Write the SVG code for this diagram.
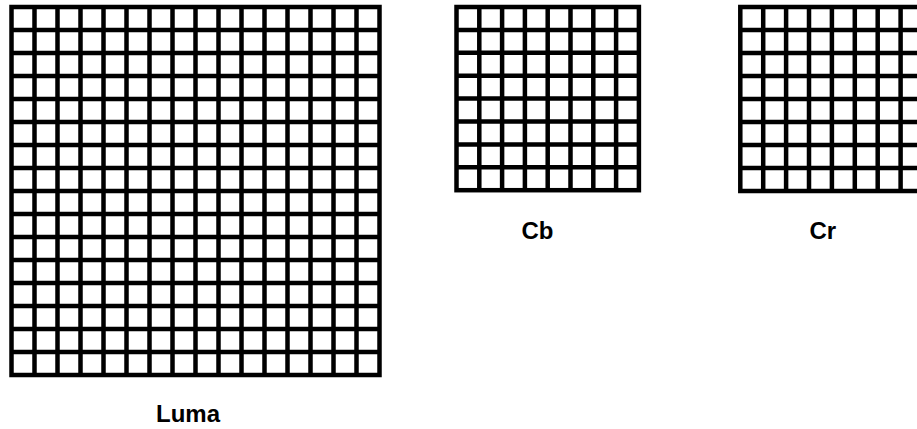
<svg xmlns="http://www.w3.org/2000/svg" width="917" height="429" viewBox="0 0 917 429">
<style>
.g{fill:none;stroke:#000;stroke-width:4.5}
.t{font-family:"Liberation Sans",Arial,sans-serif;font-weight:bold;font-size:24px;fill:#000}
</style>
<rect width="917" height="429" fill="#fff"/>
<g id="luma">
<rect class="g" x="11.5" y="7" width="368" height="368"/>
<path class="g" d="M34.5 7V375M57.5 7V375M80.5 7V375M103.5 7V375M126.5 7V375M149.5 7V375M172.5 7V375M195.5 7V375M218.5 7V375M241.5 7V375M264.5 7V375M287.5 7V375M310.5 7V375M333.5 7V375M356.5 7V375M11.5 30H379.5M11.5 53H379.5M11.5 76H379.5M11.5 99H379.5M11.5 122H379.5M11.5 145H379.5M11.5 168H379.5M11.5 191H379.5M11.5 214H379.5M11.5 237H379.5M11.5 260H379.5M11.5 283H379.5M11.5 306H379.5M11.5 329H379.5M11.5 352H379.5"/>
<text class="t" x="156" y="421.5">Luma</text>
</g>
<g id="cb">
<rect class="g" x="456.5" y="7" width="182.4" height="183.2"/>
<path class="g" d="M479.3 7V190.2M502.1 7V190.2M524.9 7V190.2M547.7 7V190.2M570.5 7V190.2M593.3 7V190.2M616.1 7V190.2M456.5 29.9H638.9M456.5 52.8H638.9M456.5 75.7H638.9M456.5 98.6H638.9M456.5 121.5H638.9M456.5 144.4H638.9M456.5 167.3H638.9"/>
<text class="t" x="521.5" y="239">Cb</text>
</g>
<g id="cr">
<rect class="g" x="740.3" y="7" width="183.2" height="184"/>
<path class="g" d="M763.2 7V191M786.1 7V191M809 7V191M831.9 7V191M854.8 7V191M877.7 7V191M900.6 7V191M740.3 30H923.5M740.3 53H923.5M740.3 76H923.5M740.3 99H923.5M740.3 122H923.5M740.3 145H923.5M740.3 168H923.5"/>
<text class="t" x="809.5" y="239">Cr</text>
</g>
<g id="connectors"/>
</svg>
